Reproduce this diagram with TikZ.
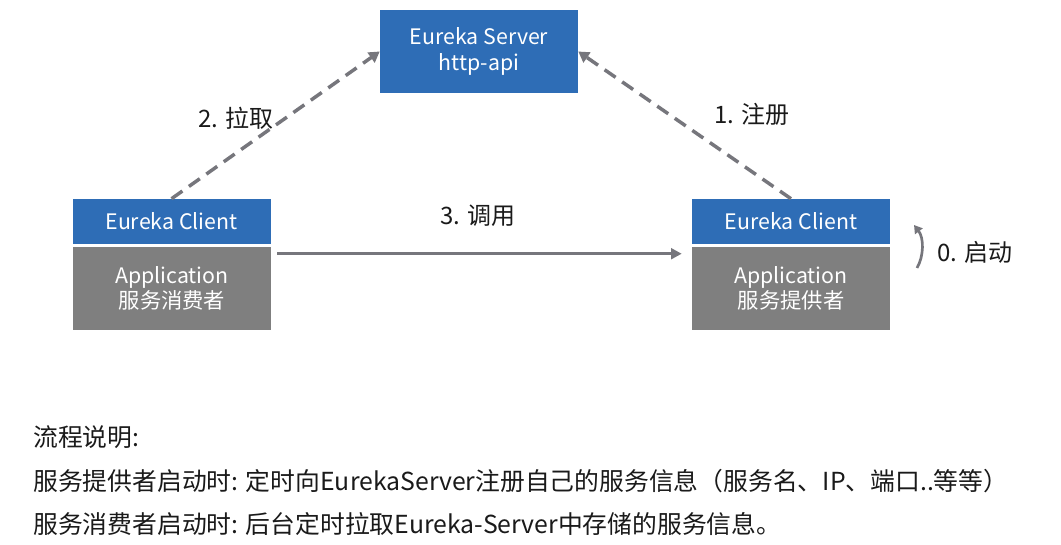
\documentclass[tikz,border=0pt]{standalone}
\usepackage{fontspec}
\setmainfont{Noto Sans CJK SC}
\usetikzlibrary{arrows.meta,calc}
\definecolor{boxblue}{HTML}{2E6DB6}
\definecolor{boxgray}{HTML}{7F7F7F}
\definecolor{arrgray}{HTML}{76767C}
\definecolor{txt}{HTML}{1A1A1A}
\tikzset{
  bluebox/.style={draw=none,fill=boxblue,text=white,minimum width=198*0.75pt,inner sep=0pt,font=\fontsize{16}{19}\selectfont,align=center},
  graybox/.style={draw=none,fill=boxgray,text=white,minimum width=198*0.75pt,minimum height=83*0.75pt,inner sep=0pt,font=\fontsize{16}{18.5}\selectfont,align=center},
  lbl/.style={text=txt,font=\fontsize{18}{21}\selectfont,inner sep=0pt},
  dashedarrow/.style={draw=arrgray,line width=2.6pt,dash pattern=on 10pt off 6pt,-{Triangle[length=8pt,width=9pt]}},
  solidarrow/.style={draw=arrgray,line width=2pt,-{Triangle[length=8pt,width=8pt]}},
  desc/.style={text=txt,font=\fontsize{18.6}{21}\selectfont,inner sep=0pt,anchor=west}
}
\begin{document}
\begin{tikzpicture}[x=0.75pt,y=-0.75pt]
\useasboundingbox[fill=white] (0,0) rectangle (1061,545);
\node[bluebox,minimum height=83*0.75pt] (srv) at (479,51.5) {Eureka Server\\http-api};
\node[bluebox,minimum height=45*0.75pt] (lb) at (171.5,221.5) {Eureka Client};
\node[graybox] (lg) at (172,288.5) {Application\\服务消费者};
\node[bluebox,minimum height=45*0.75pt] (rb) at (791,221.5) {Eureka Client};
\node[graybox] (rg) at (791,288.5) {Application\\服务提供者};
\draw[dashedarrow] (lb.north) -- (srv.west);
\draw[dashedarrow] (rb.north) -- (srv.east);
\coordinate (sa) at ($(lg.north east)+(6,7)$);
\coordinate (sb) at ($(rg.north west)+(-10,7)$);
\draw[solidarrow] (sa) -- (sb);
\coordinate (ca) at (917,268);
\coordinate (cb) at (914,225);
\draw[draw=arrgray,line width=2pt,-{Triangle[length=6pt,width=7pt]}] (ca) .. controls (924,256) and (924,238) .. (cb);
\node[lbl] (l2) at (236,118) {2. 拉取};
\node[lbl] (l1) at (752,114) {1. 注册};
\node[lbl] (l3) at (478,216) {3. 调用};
\node[lbl] (l0) at (975,252) {0. 启动};
\node[desc] (d1) at (33,437) {流程说明:};
\node[desc] (d2) at (33,481) {服务提供者启动时: 定时向EurekaServer注册自己的服务信息（服务名、IP、端口..等等）};
\node[desc] (d3) at (33,524) {服务消费者启动时: 后台定时拉取Eureka-Server中存储的服务信息。};
\end{tikzpicture}
\end{document}
